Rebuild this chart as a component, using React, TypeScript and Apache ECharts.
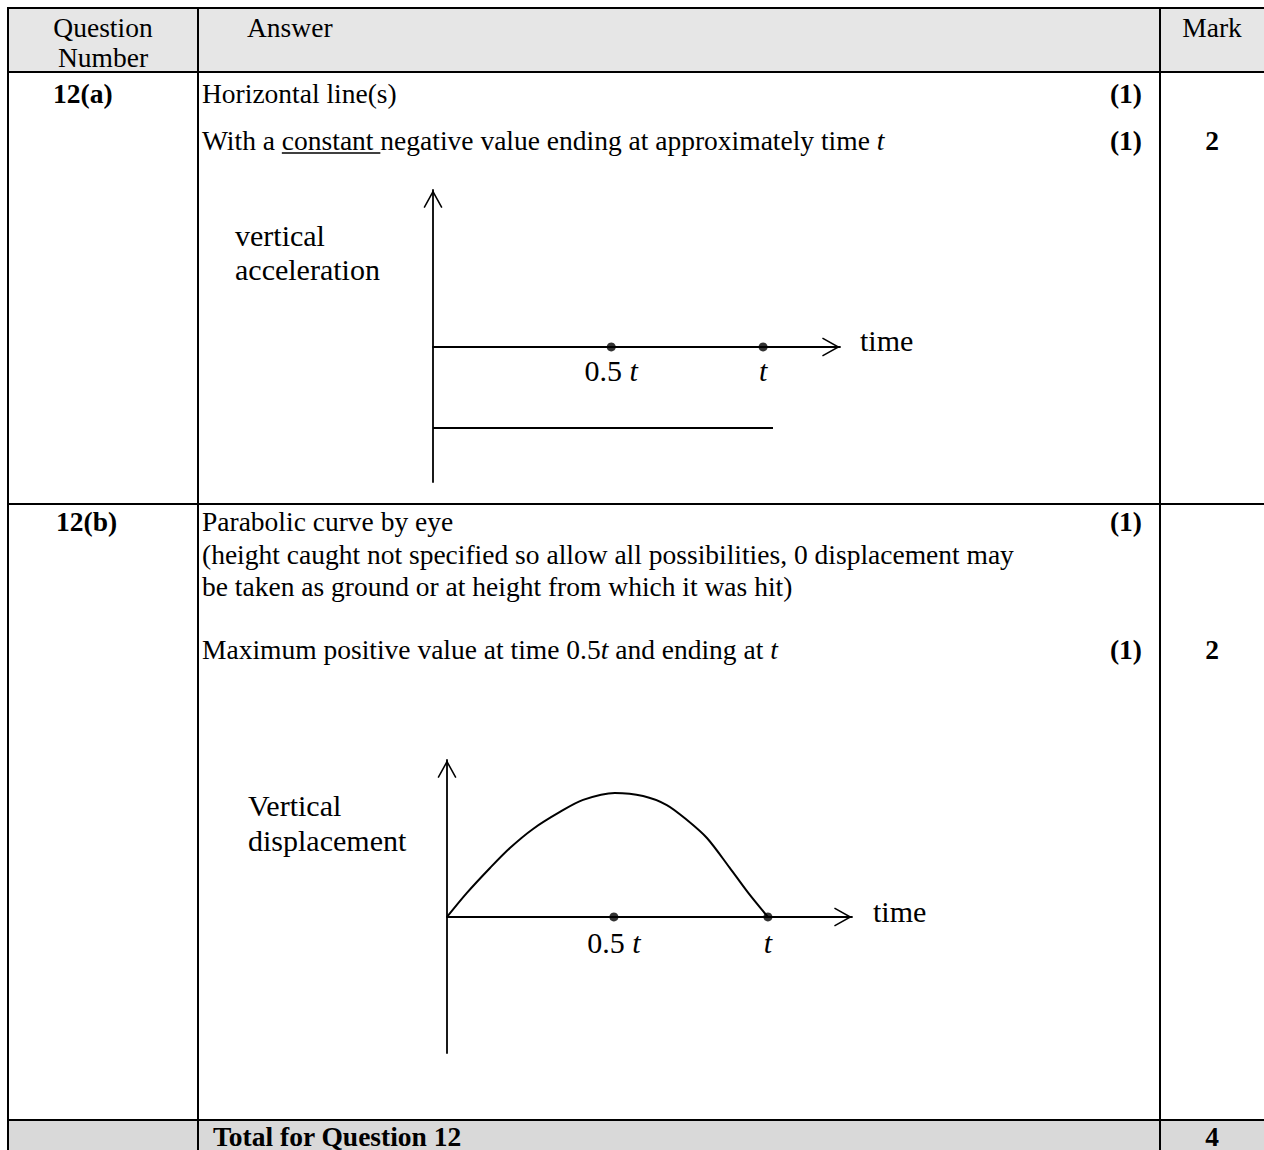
import React, { useEffect, useRef } from 'react';
import * as echarts from 'echarts';

const SERIF = '"Liberation Serif", "Times New Roman", Times, serif';

// ---- Diagram (a): vertical acceleration against time (time in units of t)
const accelTickValues = [0.54, 1];
const accelTickLabels = ['0.5 t', 't'];
const accelLineX = [0, 1.03];
const accelLineY = [-1, -1];
const accelXRange = [0, 1.233];
const accelYRange = [-1.667, 1.938];

// ---- Diagram (b): vertical displacement against time
const dispTickValues = [0.52, 1];
const dispTickLabels = ['0.5 t', 't'];
const dispX = [0, 0.062, 0.134, 0.196, 0.268, 0.352, 0.424, 0.523, 0.611, 0.685, 0.748, 0.81, 0.88, 0.94, 1.0];
const dispY = [0, 0.194, 0.395, 0.556, 0.71, 0.847, 0.944, 1.0, 0.976, 0.903, 0.782, 0.637, 0.4, 0.19, 0];
const dispXRange = [0, 1.262];
const dispYRange = [-1.097, 1.266];

const ARROW = 'path://M50 0 L100 90 L93 94 L50 17 L7 94 L0 90 Z';

function richLabel(label: string) {
  const m = label.match(/^(.*?)(t)$/);
  if (!m) return label;
  return (m[1] ? `{n|${m[1]}}` : '') + `{i|${m[2]}}`;
}

function txt(x: number, y: number, text: string, o: any = {}) {
  const size = o.size ?? 27.5;
  const weight = o.bold ? 'bold' : 'normal';
  const align = o.align ?? 'left';
  return {
    type: 'text',
    x,
    y,
    z: 10,
    style: {
      text,
      fill: '#000',
      font: `${weight} ${size}px ${SERIF}`,
      align,
      verticalAlign: 'middle',
      textAlign: align,
      textVerticalAlign: 'middle',
      rich: o.rich
        ? {
            n: { fontSize: size, fontFamily: SERIF, fontWeight: weight, fontStyle: 'normal', fill: '#000', color: '#000' },
            i: { fontSize: size, fontFamily: SERIF, fontWeight: weight, fontStyle: 'italic', fill: '#000', color: '#000' },
          }
        : undefined,
    },
  };
}

function hline(y: number, x1: number, x2: number, w = 2) {
  return { type: 'line', z: 5, shape: { x1, y1: y, x2, y2: y }, style: { stroke: '#000', lineWidth: w } };
}
function vline(x: number, y1: number, y2: number, w = 2) {
  return { type: 'line', z: 5, shape: { x1: x, y1, x2: x, y2 }, style: { stroke: '#000', lineWidth: w } };
}

function axisPair(gridIndex: number, xr: number[], yr: number[], ticks: number[], labels: string[], margin: number, offset: number) {
  const lineStyle = { color: '#000', width: 1.8 };
  const arrowLine = {
    show: true,
    lineStyle,
    symbol: ['none', ARROW],
    symbolSize: [19, 18],
    symbolOffset: [0, -9],
  };
  const x = {
    type: 'value',
    gridIndex,
    position: 'bottom',
    offset,
    min: xr[0],
    max: xr[1],
    axisLine: { ...arrowLine, onZero: false },
    axisTick: { show: false },
    splitLine: { show: false },
    axisLabel: {
      show: true,
      customValues: ticks,
      margin,
      formatter: (v: number) => {
        const idx = ticks.findIndex((t) => Math.abs(t - v) < 1e-6);
        return richLabel(idx >= 0 ? labels[idx] : '');
      },
      rich: {
        n: { fontSize: 30, fontFamily: SERIF, color: '#000', lineHeight: 30 },
        i: { fontSize: 30, fontFamily: SERIF, fontStyle: 'italic', color: '#000', lineHeight: 30 },
      },
    },
  };
  const y = {
    type: 'value',
    gridIndex,
    min: yr[0],
    max: yr[1],
    axisLine: { ...arrowLine, onZero: true },
    axisTick: { show: false },
    axisLabel: { show: false },
    splitLine: { show: false },
  };
  return { x, y };
}

function buildOption() {
  const ctx = document.createElement('canvas').getContext('2d')!;
  ctx.font = `27.5px ${SERIF}`;
  const ulStart = 202 + ctx.measureText('With a ').width;
  const ulEnd = ulStart + ctx.measureText('constant ').width;

  const a = axisPair(0, accelXRange, accelYRange, accelTickValues, accelTickLabels, 8, -135);
  const b = axisPair(1, dispXRange, dispYRange, dispTickValues, dispTickLabels, 10, -136);

  const graphic: any[] = [
    { type: 'rect', z: 1, shape: { x: 8, y: 8, width: 1260, height: 64 }, style: { fill: '#e6e6e6' } },
    { type: 'rect', z: 1, shape: { x: 8, y: 1120, width: 1260, height: 40 }, style: { fill: '#d9d9d9' } },
    hline(8, 7, 1270),
    hline(72, 7, 1270),
    hline(504, 7, 1270),
    hline(1120, 7, 1270),
    vline(8, 7, 1160),
    vline(198, 7, 1160),
    vline(1160, 7, 1160),
    // header
    txt(103, 27, 'Question', { align: 'center' }),
    txt(103, 57, 'Number', { align: 'center' }),
    txt(247, 27, 'Answer'),
    txt(1212, 27, 'Mark', { align: 'center' }),
    // 12(a)
    txt(53, 93, '12(a)', { bold: true }),
    txt(202, 93, 'Horizontal line(s)'),
    txt(1142, 93, '(1)', { bold: true, align: 'right' }),
    txt(202, 140, '{n|With a constant negative value ending at approximately time }{i|t}', { rich: true }),
    { type: 'line', z: 10, shape: { x1: ulStart, y1: 153, x2: ulEnd, y2: 153 }, style: { stroke: '#000', lineWidth: 1.5 } },
    txt(1142, 140, '(1)', { bold: true, align: 'right' }),
    txt(1212, 140, '2', { bold: true, align: 'center' }),
    txt(235, 235, 'vertical', { size: 30 }),
    txt(235, 269, 'acceleration', { size: 30 }),
    txt(860, 340, 'time', { size: 30 }),
    // 12(b)
    txt(56, 521, '12(b)', { bold: true }),
    txt(202, 521, 'Parabolic curve by eye'),
    txt(1142, 521, '(1)', { bold: true, align: 'right' }),
    txt(202, 554, '(height caught not specified so allow all possibilities, 0 displacement may'),
    txt(202, 586, 'be taken as ground or at height from which it was hit)'),
    txt(202, 649, '{n|Maximum positive value at time 0.5}{i|t}{n| and ending at }{i|t}', { rich: true }),
    txt(1142, 649, '(1)', { bold: true, align: 'right' }),
    txt(1212, 649, '2', { bold: true, align: 'center' }),
    txt(248, 805, 'Vertical', { size: 30 }),
    txt(248, 840, 'displacement', { size: 30 }),
    txt(873, 911, 'time', { size: 30 }),
    // total
    txt(213, 1136, 'Total for Question 12', { bold: true }),
    txt(1212, 1136, '4', { bold: true, align: 'center' }),
  ];

  return {
    animation: false,
    backgroundColor: '#fff',
    graphic,
    grid: [
      { left: 433, top: 190, width: 407, height: 292, outerBoundsMode: 'none', containLabel: false },
      { left: 447, top: 760, width: 405, height: 293, outerBoundsMode: 'none', containLabel: false },
    ],
    xAxis: [a.x, b.x],
    yAxis: [a.y, b.y],
    series: [
      {
        type: 'line',
        xAxisIndex: 0,
        yAxisIndex: 0,
        data: accelLineX.map((x, i) => [x, accelLineY[i]]),
        showSymbol: false,
        lineStyle: { color: '#000', width: 2 },
        silent: true,
      },
      {
        type: 'scatter',
        xAxisIndex: 0,
        yAxisIndex: 0,
        data: accelTickValues.map((x) => [x, 0]),
        symbolSize: 9,
        itemStyle: { color: '#000' },
        silent: true,
        z: 5,
      },
      {
        type: 'line',
        xAxisIndex: 1,
        yAxisIndex: 1,
        data: dispX.map((x, i) => [x, dispY[i]]),
        smooth: 0.3,
        showSymbol: false,
        lineStyle: { color: '#000', width: 2 },
        silent: true,
      },
      {
        type: 'scatter',
        xAxisIndex: 1,
        yAxisIndex: 1,
        data: dispTickValues.map((x) => [x, 0]),
        symbolSize: 9,
        itemStyle: { color: '#000' },
        silent: true,
        z: 5,
      },
    ],
  };
}

export default function App() {
  const ref = useRef<HTMLDivElement>(null);
  useEffect(() => {
    if (!ref.current) return;
    const chart = echarts.init(ref.current, null, { renderer: 'svg' });
    chart.setOption(buildOption() as any);
    return () => chart.dispose();
  }, []);
  return (
    <div
      ref={ref}
      style={{ position: 'absolute', left: 0, top: 0, width: 1264, height: 1150, background: '#fff' }}
    />
  );
}
